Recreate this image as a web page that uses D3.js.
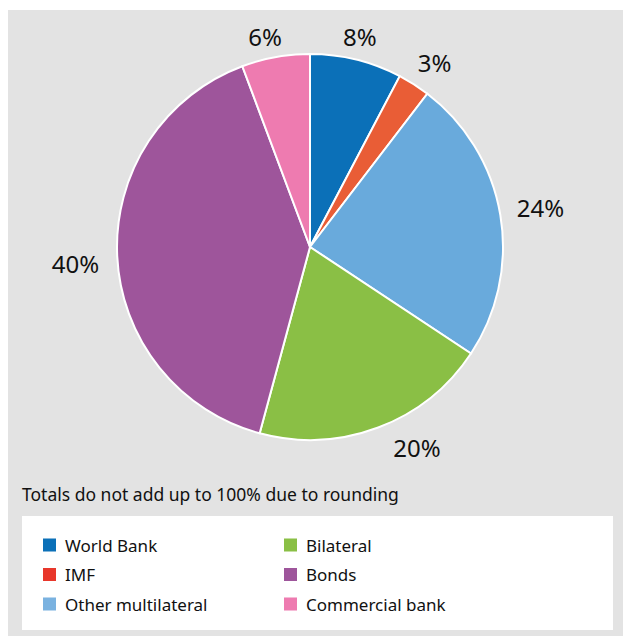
<!DOCTYPE html>
<html><head><meta charset="utf-8">
<script src="https://cdn.jsdelivr.net/npm/d3@7"></script>
<style>body{margin:0;background:#fff;} text{font-family:"Noto Sans",sans-serif;fill:#111;}</style>
</head><body>
<svg id="c" width="625" height="639"></svg>
<script>
const categories = ["World Bank","IMF","Other multilateral","Bilateral","Bonds","Commercial bank"];
const values = [7.7, 2.7, 23.9, 19.9, 40.1, 5.7];
const valueLabels = ["8%","3%","24%","20%","40%","6%"];
const sliceColors = ["#0b70b8","#e95d36","#69aadc","#8abf45","#9e559b","#ee7bb0"];
const legendColors = ["#0b70b8","#e8372b","#7ab2e0","#8abf45","#9e559b","#ee7bb0"];
const note = "Totals do not add up to 100% due to rounding";

const svg = d3.select("#c");
svg.append("rect").attr("x",8).attr("y",10).attr("width",615).attr("height",626).attr("fill","#e3e3e3");

const cx = 310, cy = 247, R = 193;
const pie = d3.pie().sort(null).value(d=>d)(values);
const arc = d3.arc().innerRadius(0).outerRadius(R);
const g = svg.append("g").attr("transform",`translate(${cx},${cy})`);
g.selectAll("path").data(pie).join("path")
  .attr("d",arc).attr("fill",(d,i)=>sliceColors[i])
  .attr("stroke","#fff").attr("stroke-width",2);

// label placement: radius and angular nudge (degrees) per slice
const labelR = [216, 223, 234, 227, 235, 215];
const labelNudge = [-0.5, 1.4, -0.3, -7.4, -1.3, -1.8];
g.selectAll("text.lab").data(pie).join("text").attr("class","lab")
  .attr("transform",(d,i)=>{
    const a = (d.startAngle+d.endAngle)/2 + labelNudge[i]*Math.PI/180;
    return `translate(${labelR[i]*Math.sin(a)},${-labelR[i]*Math.cos(a)})`;})
  .attr("text-anchor","middle").attr("dominant-baseline","central")
  .style("font-size","24px").text((d,i)=>valueLabels[i]);

svg.append("text").attr("x",22).attr("y",501).style("font-size","17.5px").text(note);

svg.append("rect").attr("x",22).attr("y",516).attr("width",591).attr("height",114).attr("fill","#fff");
const lg = svg.append("g");
categories.forEach((c,i)=>{
  const col = Math.floor(i/3), row = i%3;
  const x = 43 + col*241, y = 545 + row*29.5;
  lg.append("rect").attr("x",x).attr("y",y-6.5).attr("width",13).attr("height",13).attr("fill",legendColors[i]);
  lg.append("text").attr("x",x+22).attr("y",y).attr("dominant-baseline","central").style("font-size","17px").text(c);
});
</script>
</body></html>
